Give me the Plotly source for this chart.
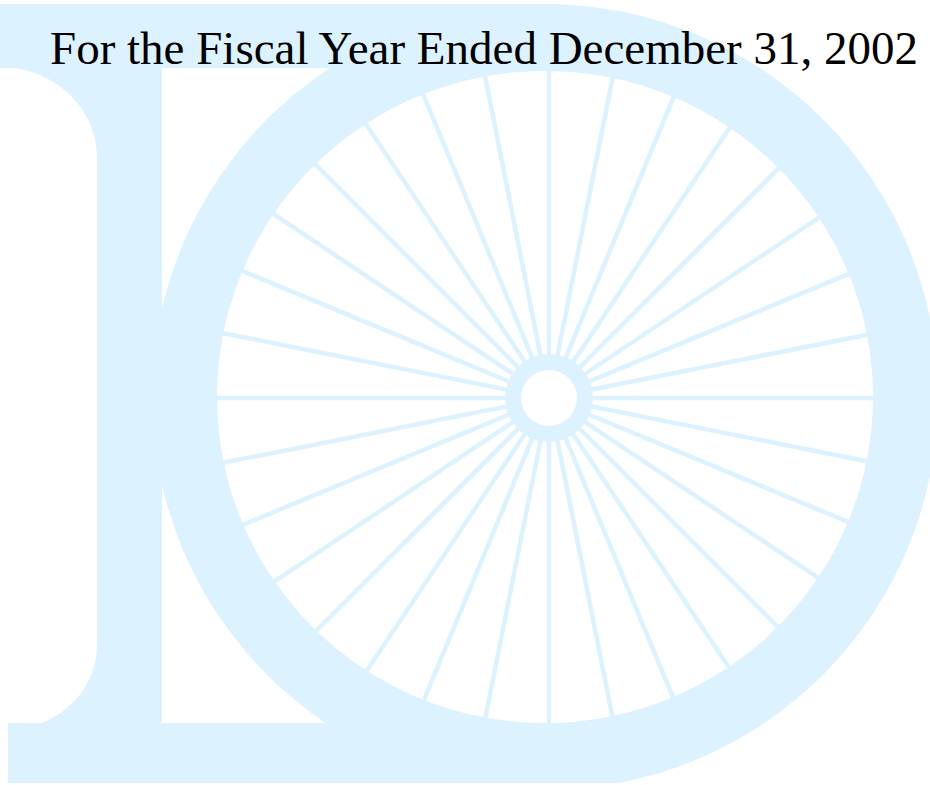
import numpy as np
import plotly.graph_objects as go

# ---- content ----
TITLE_TEXT = "For the Fiscal Year Ended December 31, 2002"
LOGO_BLUE = "rgb(220,242,254)"

# spoke directions of the wheel (degrees, counter-clockwise from +x)
SPOKE_ANGLES = [0, 11.25, 22.5, 33.75, 45, 56.25, 67.5, 78.75,
                90, 101.25, 112.5, 123.75, 135, 146.25, 157.5, 168.75,
                180, 191.25, 202.5, 213.75, 225, 236.25, 247.5, 258.75,
                270, 281.25, 292.5, 303.75, 315, 326.25, 337.5, 348.75]

# geometry (pixel canvas 930 x 785, y downward)
W, H = 930, 785
HUB = [549, 398]
SPOKE_LEN = 350
HUB_RING_R = 44
HUB_HOLE_R = 28
RIM_CENTER = [545, 397]
RIM_OUTER_R = 393
RIM_INNER_RX = 328
RIM_INNER_RY = 326
TOP_BAND = [0, 4, 560, 68]
BOTTOM_BAND = [8, 723, 560, 783]
STEM = [97, 60, 162, 730]
TOP_SERIF = [0, 67, 97, 158]
BOTTOM_SERIF = [8, 645, 97, 729]

fig = go.Figure()

shapes = []
def rect(b, color, layer="below"):
    return dict(type="rect", xref="x", yref="y", x0=b[0], y0=b[1], x1=b[2], y1=b[3],
                fillcolor=color, line=dict(width=0), layer=layer)

def ellipse(cx, cy, rx, ry, color, layer="below"):
    return dict(type="circle", xref="x", yref="y", x0=cx - rx, y0=cy - ry, x1=cx + rx, y1=cy + ry,
                fillcolor=color, line=dict(width=0), layer=layer)

def serif_top(b):
    x0, y0, x1, y1 = b
    t = np.linspace(0, np.pi / 2, 40)
    rx, ry = x1 - x0, y1 - y0
    pts = [(x0 + rx * np.cos(a), y1 - ry * np.sin(a)) for a in t]
    p = f"M {x0},{y0} L {x1},{y0} " + " ".join(f"L {x:.2f},{y:.2f}" for x, y in pts) + " Z"
    return dict(type="path", xref="x", yref="y", path=p, fillcolor=LOGO_BLUE,
                line=dict(width=0), layer="below")

def serif_bottom(b):
    x0, y0, x1, y1 = b
    t = np.linspace(0, np.pi / 2, 40)
    rx, ry = x1 - x0, y1 - y0
    pts = [(x0 + rx * np.cos(a), y0 + ry * np.sin(a)) for a in t]
    p = f"M {x1},{y1} L {x0},{y1} " + " ".join(f"L {x:.2f},{y:.2f}" for x, y in reversed(pts)) + " Z"
    return dict(type="path", xref="x", yref="y", path=p, fillcolor=LOGO_BLUE,
                line=dict(width=0), layer="below")

shapes.append(ellipse(RIM_CENTER[0], RIM_CENTER[1], RIM_OUTER_R, RIM_OUTER_R, LOGO_BLUE))
shapes.append(rect(TOP_BAND, LOGO_BLUE))
shapes.append(rect(BOTTOM_BAND, LOGO_BLUE))
shapes.append(rect(STEM, LOGO_BLUE))
shapes.append(serif_top(TOP_SERIF))
shapes.append(serif_bottom(BOTTOM_SERIF))
shapes.append(ellipse(RIM_CENTER[0], RIM_CENTER[1], RIM_INNER_RX, RIM_INNER_RY, "white"))
shapes.append(rect([0, 783, W, H + 10], "white"))
shapes.append(ellipse(HUB[0], HUB[1], HUB_RING_R, HUB_RING_R, LOGO_BLUE, layer="above"))
shapes.append(ellipse(HUB[0], HUB[1], HUB_HOLE_R, HUB_HOLE_R, "white", layer="above"))

xs, ys = [], []
for a in SPOKE_ANGLES:
    r = np.deg2rad(a)
    xs += [HUB[0], HUB[0] + SPOKE_LEN * np.cos(r), None]
    ys += [HUB[1], HUB[1] - SPOKE_LEN * np.sin(r), None]
fig.add_trace(go.Scatter(x=xs, y=ys, mode="lines", line=dict(color=LOGO_BLUE, width=4.5),
                         hoverinfo="skip", showlegend=False))

fig.add_annotation(text=TITLE_TEXT, x=48, y=76, xref="x", yref="y",
                   xanchor="left", yanchor="bottom", showarrow=False,
                   font=dict(family="Liberation Serif", size=47, color="black"))

fig.update_layout(
    width=W, height=H, autosize=False,
    margin=dict(l=0, r=0, t=0, b=0, pad=0),
    paper_bgcolor="white", plot_bgcolor="white",
    shapes=shapes, showlegend=False,
    xaxis=dict(range=[0, W], visible=False, fixedrange=True),
    yaxis=dict(range=[H, 0], visible=False, fixedrange=True),
)

fig.write_html("out.html", config={"displayModeBar": False},
               post_script="document.body.style.margin='0';document.body.style.overflow='hidden';")
